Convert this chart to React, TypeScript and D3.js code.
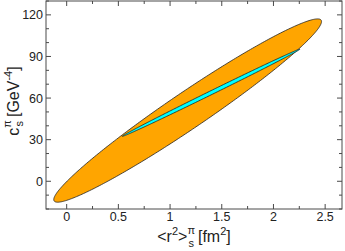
import * as d3 from "d3";

// ellipse parameters: [centre x, sigma x, centre y, sigma y, correlation]
const ellipseNames = ["outer", "inner"];
const ellipseCx = [1.17, 1.397];
const ellipseSx = [1.295, 0.859];
const ellipseCy = [51, 63.85];
const ellipseSy = [66.1, 31.45];
const ellipseRho = [0.971, 0.9988];
const ellipseFill = ["#ffa500", "#00ffff"];

const xTicks = [0, 0.5, 1, 1.5, 2, 2.5];
const xTickLabels = ["0", "0.5", "1", "1.5", "2", "2.5"];
const yTicks = [0, 30, 60, 90, 120];
const yTickLabels = ["0", "30", "60", "90", "120"];

const W = 345;
const H = 251;
const margin = { top: 1, right: 3, bottom: 42, left: 46 };
const font = "'Liberation Sans', Arial, sans-serif";

export default function App() {
  const x = d3
    .scaleLinear()
    .domain([-0.2, 2.663])
    .range([margin.left, W - margin.right]);
  const y = d3
    .scaleLinear()
    .domain([-20, 130])
    .range([H - margin.bottom, margin.top]);

  const angles = d3.range(0, 360, 1).map((d) => (d * Math.PI) / 180); // sample points on the contour

  const paths = ellipseNames.map((_, i) => {
    const r = ellipseRho[i];
    const pts: [number, number][] = angles.map((t) => [
      ellipseCx[i] + ellipseSx[i] * Math.cos(t),
      ellipseCy[i] + ellipseSy[i] * (r * Math.cos(t) + Math.sqrt(1 - r * r) * Math.sin(t)),
    ]);
    return d3
      .line()
      .x((p) => x(p[0]))
      .y((p) => y(p[1]))
      .curve(d3.curveLinearClosed)(pts) as string;
  });

  const xMinor = d3.range(-0.25, 2.7, 0.25).filter((v) => v > -0.2 && v < 2.663);
  const yMinor = d3.range(-20, 131, 10);

  const x0 = margin.left;
  const x1 = W - margin.right;
  const y0 = margin.top;
  const y1 = H - margin.bottom;
  const axisColor = "#4a4a4a";

  return (
    <svg width={W} height={H} style={{ position: "absolute", left: 0, top: 0 }} fontFamily={font}>
      <rect width={W} height={H} fill="#fff" />
      {paths.map((d, i) => (
        <path key={ellipseNames[i]} d={d} fill={ellipseFill[i]} stroke="#222" strokeWidth={0.8} />
      ))}

      {/* ticks on all four sides, pointing inward */}
      <g stroke={axisColor} strokeWidth={1}>
        {xMinor.map((v) => {
          const major = xTicks.some((t) => Math.abs(t - v) < 1e-6);
          const len = major ? 5 : 3;
          return (
            <g key={"xt" + v}>
              <line x1={x(v)} x2={x(v)} y1={y1} y2={y1 - len} />
              <line x1={x(v)} x2={x(v)} y1={y0} y2={y0 + len} />
            </g>
          );
        })}
        {yMinor.map((v) => {
          const major = yTicks.includes(v);
          const len = major ? 5 : 3;
          return (
            <g key={"yt" + v}>
              <line x1={x0} x2={x0 + len} y1={y(v)} y2={y(v)} />
              <line x1={x1} x2={x1 - len} y1={y(v)} y2={y(v)} />
            </g>
          );
        })}
        <rect x={x0} y={y0} width={x1 - x0} height={y1 - y0} fill="none" />
      </g>

      <g fontSize={12.5} fill="#222">
        {xTicks.map((v, i) => (
          <text key={"xl" + v} x={x(v)} y={221} textAnchor="middle">
            {xTickLabels[i]}
          </text>
        ))}
        {yTicks.map((v, i) => (
          <text key={"yl" + v} x={43} y={y(v) + 4.5} textAnchor="end">
            {yTickLabels[i]}
          </text>
        ))}
      </g>

      {/* x axis title */}
      <text x={(x0 + x1) / 2} y={242} textAnchor="middle" fontSize={16} fill="#222">
        <tspan>{"<r"}</tspan>
        <tspan fontSize={11} dy={-7}>2</tspan>
        <tspan dy={7}>{">"}</tspan>
        <tspan fontSize={11} dy={-8}>π</tspan>
        <tspan fontSize={11} dx={-6.5} dy={13}>s</tspan>
        <tspan dx={4} dy={-5}>{"[fm"}</tspan>
        <tspan fontSize={11} dy={-7}>2</tspan>
        <tspan dy={7}>]</tspan>
      </text>

      {/* y axis title */}
      <text transform="translate(19,101) rotate(-90)" textAnchor="middle" fontSize={16} fill="#222">
        <tspan>c</tspan>
        <tspan fontSize={11} dy={-8}>π</tspan>
        <tspan fontSize={11} dx={-6.5} dy={12}>s</tspan>
        <tspan dx={4} dy={-4}>{"[GeV"}</tspan>
        <tspan fontSize={11} dy={-7}>-4</tspan>
        <tspan dy={7}>]</tspan>
      </text>
    </svg>
  );
}
